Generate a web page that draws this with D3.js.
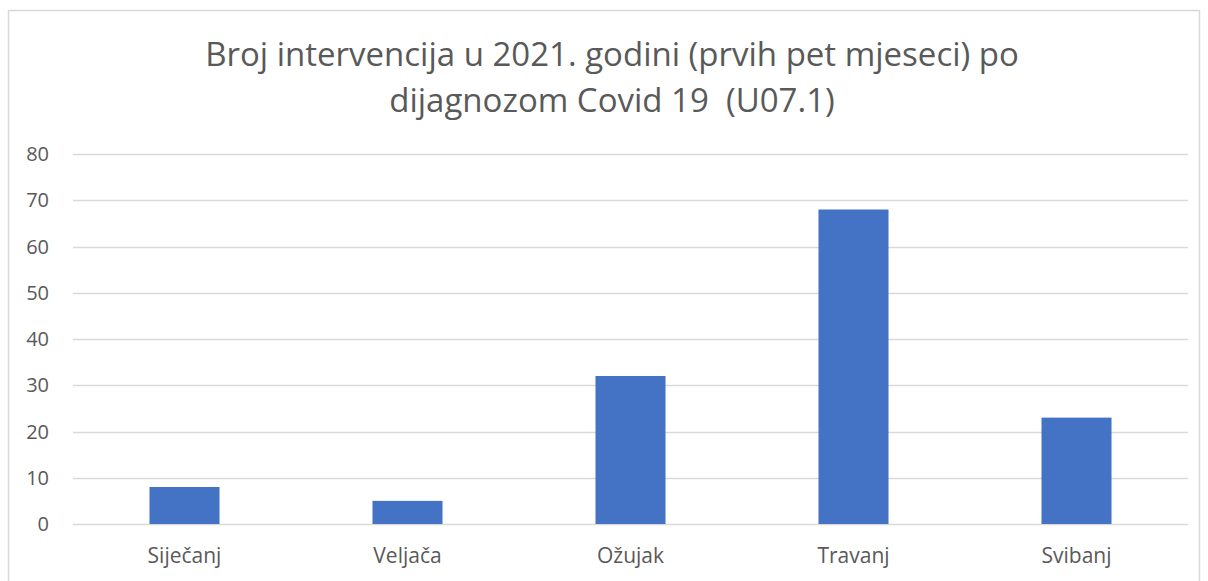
<!DOCTYPE html>
<html>
<head>
  <meta charset="utf-8">
  <script src="https://cdn.jsdelivr.net/npm/d3@7"></script>
  <style>
    body { margin: 0; background: #fff; }
    text { font-family: "Open Sans", "Liberation Sans", sans-serif; fill: #595959; }
  </style>
</head>
<body>
  <div id="chart"></div>
  <script>
    const titleLines = ["Broj intervencija u 2021. godini (prvih pet mjeseci) po", "dijagnozom Covid 19  (U07.1)"]
    const months = ["Siječanj", "Veljača", "Ožujak", "Travanj", "Svibanj"]
    const counts = [8, 5, 32, 68, 23]
    const yTicks = [0, 10, 20, 30, 40, 50, 60, 70, 80]

    const width = 1208
    const height = 581
    const margin = { top: 154, right: 20, bottom: 57, left: 73 }

    const svg = d3.select("#chart")
      .append("svg")
      .attr("width", width)
      .attr("height", height)

    // chart frame
    svg.append("rect")
      .attr("x", 8.5)
      .attr("y", 10.5)
      .attr("width", 1191)
      .attr("height", 600)
      .attr("fill", "none")
      .attr("stroke", "#d9d9d9")
      .attr("stroke-width", 1.5)

    const x = d3.scaleBand()
      .domain(months)
      .range([margin.left, width - margin.right])
      .paddingInner(0.686)
      .paddingOuter(0.343)

    const y = d3.scaleLinear()
      .domain([0, 80])
      .range([height - margin.bottom, margin.top])

    // gridlines
    svg.append("g")
      .selectAll("line")
      .data(yTicks)
      .enter()
      .append("line")
      .attr("x1", margin.left)
      .attr("x2", width - margin.right)
      .attr("y1", d => Math.round(y(d)) + 0.5)
      .attr("y2", d => Math.round(y(d)) + 0.5)
      .style("stroke", "#d9d9d9")
      .style("stroke-width", 1.5)

    // y tick labels
    svg.append("g")
      .selectAll("text")
      .data(yTicks)
      .enter()
      .append("text")
      .attr("x", 49)
      .attr("y", d => y(d))
      .attr("dy", "0.35em")
      .attr("text-anchor", "end")
      .style("font-size", "20px")
      .text(d => d)

    // bars
    svg.append("g")
      .selectAll("rect")
      .data(counts)
      .enter()
      .append("rect")
      .attr("x", (d, i) => x(months[i]))
      .attr("width", x.bandwidth())
      .attr("y", d => y(d))
      .attr("height", d => y(0) - y(d))
      .attr("fill", "#4472c4")

    // category labels
    svg.append("g")
      .selectAll("text")
      .data(months)
      .enter()
      .append("text")
      .attr("x", d => x(d) + x.bandwidth() / 2)
      .attr("y", 563)
      .attr("text-anchor", "middle")
      .style("font-size", "21px")
      .text(d => d)

    // title
    svg.append("g")
      .selectAll("text")
      .data(titleLines)
      .enter()
      .append("text")
      .attr("x", 612)
      .attr("y", (d, i) => 66 + i * 46)
      .attr("text-anchor", "middle")
      .style("font-size", "33px")
      .style("white-space", "pre")
      .text(d => d)
  </script>
</body>
</html>
